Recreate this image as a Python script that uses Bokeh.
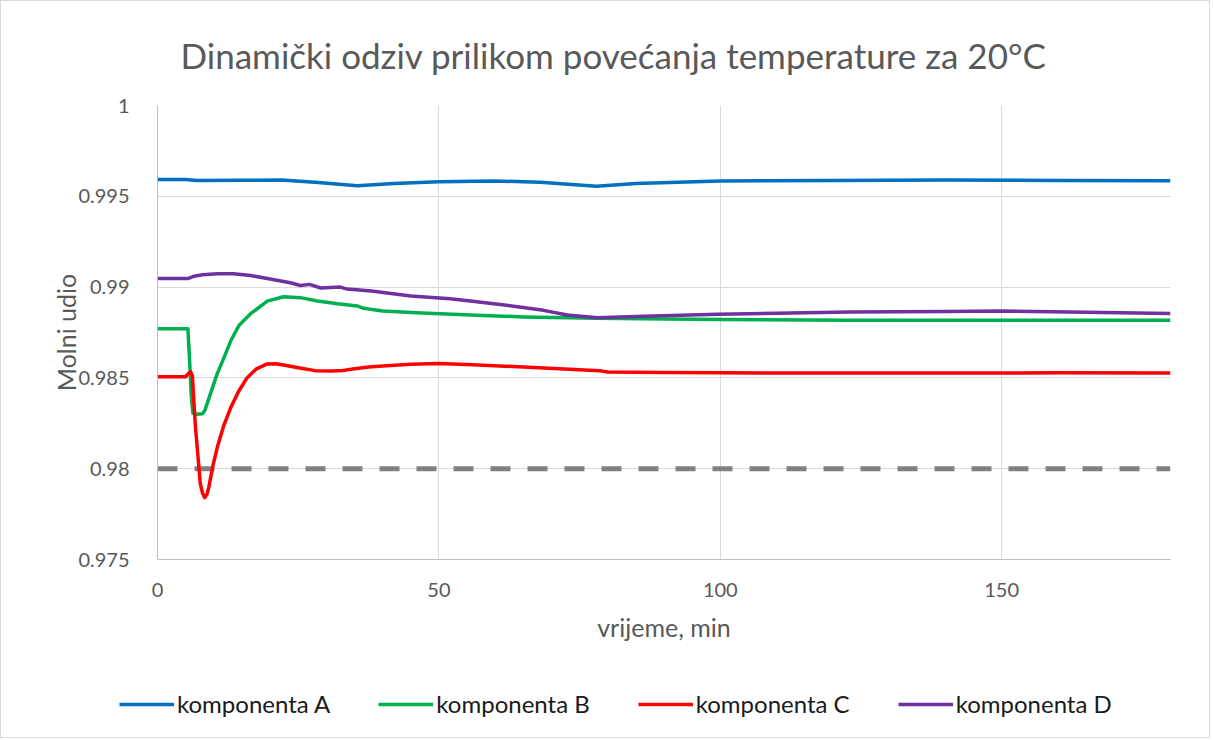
from bokeh.plotting import figure
from bokeh.layouts import column
from bokeh.models import FixedTicker, PrintfTickFormatter, Legend, LegendItem
from bokeh.embed import file_html
from bokeh.resources import INLINE

# ---------------- data ----------------
title_text = "Dinamički odziv prilikom povećanja temperature za 20°C"
x_label = "vrijeme, min"
y_label = "Molni udio"

x_ticks = [0, 50, 100, 150]
y_ticks = [0.975, 0.98, 0.985, 0.99, 0.995, 1.0]

t_a = [0, 5, 7, 15, 22, 28, 35.5, 42, 50, 60, 68, 78, 85, 100, 120, 140, 160, 180]
v_a = [0.99593, 0.99592, 0.99587, 0.99588, 0.99590, 0.99578, 0.99558, 0.99570, 0.99580,
       0.99584, 0.99578, 0.99556, 0.99570, 0.99584, 0.99587, 0.99590, 0.99587, 0.99586]

t_b = [0, 5.4, 5.7, 6.0, 6.3, 7.0, 8.0, 8.4, 9.4, 10.6, 11.8, 13, 14.5, 16.5, 19.5, 22.4,
       25.4, 28.4, 32, 35.5, 36.6, 40, 46, 55.6, 65, 78, 90, 100, 123, 150, 180]
v_b = [0.98771, 0.98771, 0.98600, 0.98400, 0.98305, 0.98300, 0.98302, 0.98320, 0.98412,
       0.98522, 0.98610, 0.98703, 0.98790, 0.98852, 0.98923, 0.98947, 0.98942, 0.98923,
       0.98908, 0.98896, 0.98883, 0.98868, 0.98859, 0.98846, 0.98836, 0.98828, 0.98824,
       0.98822, 0.98818, 0.98817, 0.98817]

t_c = [0, 5.0, 5.5, 5.9, 6.2, 6.7, 7.6, 8.0, 8.4, 8.8, 9.1, 9.8, 10.6, 11.8, 13, 14.4, 15.9,
       17.5, 19.5, 21, 22.4, 25, 28, 31, 33, 35, 37.5, 40, 45, 50, 56, 65, 75, 78.5, 80, 90,
       100, 120, 140, 160, 180]
v_c = [0.98506, 0.98506, 0.98525, 0.98533, 0.98510, 0.98247, 0.97918, 0.97865, 0.97841,
       0.97860, 0.97896, 0.98010, 0.98115, 0.98240, 0.98335, 0.98425, 0.98500, 0.98548,
       0.98577, 0.98578, 0.98571, 0.98556, 0.98540, 0.98538, 0.98541, 0.98550, 0.98560,
       0.98565, 0.98575, 0.98579, 0.98572, 0.98560, 0.98545, 0.98540, 0.98532, 0.98530,
       0.98528, 0.98527, 0.98527, 0.98528, 0.98527]

t_d = [0, 5.5, 6.5, 8, 10.7, 13.5, 16.5, 20, 23.6, 25.4, 27, 29, 32.5, 33.7, 38, 45, 52,
       55.6, 62, 68.6, 72.8, 78.2, 85, 99.5, 123, 140, 150, 165, 180]
v_d = [0.99048, 0.99048, 0.99060, 0.99068, 0.99073, 0.99073, 0.99064, 0.99045, 0.99024,
       0.99009, 0.99015, 0.98995, 0.99000, 0.98989, 0.98978, 0.98951, 0.98936, 0.98923,
       0.98900, 0.98872, 0.98846, 0.98831, 0.98838, 0.98850, 0.98863, 0.98865, 0.98868,
       0.98862, 0.98855]

limit_t = [0, 180]
limit_v = [0.98, 0.98]

names = ["komponenta A", "komponenta B", "komponenta C", "komponenta D"]
colors = ["#0070C0", "#00B050", "#FF0000", "#7030A0"]

FONT = "Lato"
LW = 3.5

# ---------------- main chart ----------------
p = figure(width=1208, height=660, x_range=(0, 180), y_range=(0.975, 1.0),
           output_backend="svg", toolbar_location=None,
           min_border_left=156, min_border_right=39, min_border_top=103,
           min_border_bottom=102)
p.outline_line_color = None
p.background_fill_color = "white"
p.border_fill_color = "white"

p.title.text = title_text
p.title.align = "left"
p.title.offset = 23
p.title.standoff = 60
p.title.text_font = FONT
p.title.text_font_size = "35px"
p.title.text_font_style = "normal"
p.title.text_color = "#595959"

for ax in (p.xaxis[0], p.yaxis[0]):
    ax.major_tick_line_color = None
    ax.minor_tick_line_color = None
    ax.axis_line_color = "#bfbfbf"
    ax.axis_line_width = 1
    ax.major_label_text_font = FONT
    ax.major_label_text_font_size = "20px"
    ax.major_label_text_color = "#595959"
    ax.axis_label_text_font = FONT
    ax.axis_label_text_font_size = "25px"
    ax.axis_label_text_font_style = "normal"
    ax.axis_label_text_color = "#595959"

p.xaxis.ticker = FixedTicker(ticks=x_ticks)
p.yaxis.ticker = FixedTicker(ticks=y_ticks)
p.yaxis.formatter = PrintfTickFormatter(format="%g")
p.xaxis.axis_label = x_label
p.yaxis.axis_label = y_label
p.xaxis.major_label_standoff = 17
p.yaxis.major_label_standoff = 22
p.xaxis.axis_label_standoff = 12
p.yaxis.axis_label_standoff = -6

p.grid.grid_line_color = "#d9d9d9"
p.grid.grid_line_width = 1

p.line(limit_t, limit_v, line_color="#808080", line_width=5, line_dash="20 17")

series = [(t_a, v_a), (t_b, v_b), (t_c, v_c), (t_d, v_d)]
for (t, v), c in zip(series, colors):
    p.line(t, v, line_color=c, line_width=LW, line_join="round")

# ---------------- legend strip ----------------
# its ranges lie outside the data, so its own copies of the series stay hidden;
# they only supply the legend's line samples
pl = figure(width=1208, height=76, x_range=(-2, -1), y_range=(-2, -1),
            output_backend="svg", toolbar_location=None,
            x_axis_location=None, y_axis_location=None, min_border=0)
pl.outline_line_color = None
pl.xgrid.visible = False
pl.ygrid.visible = False
pl.background_fill_color = "white"
pl.border_fill_color = "white"

for fig in (p, pl):
    if "frame_align" in fig.properties():
        fig.frame_align = False

items = []
for (t, v), n, c in zip(series, names, colors):
    r = pl.line(t, v, line_color=c, line_width=LW, visible=False)
    items.append(LegendItem(label=n, renderers=[r]))

legend = Legend(items=items, orientation="horizontal", location=(118, 19),
                glyph_width=55, glyph_height=22, label_standoff=3, spacing=48,
                padding=0, margin=0, border_line_color=None,
                background_fill_alpha=0, inactive_fill_alpha=0,
                label_text_font=FONT, label_text_font_size="24px",
                label_text_color="#1a1a1a")
pl.add_layout(legend, "center")

layout = column(p, pl, spacing=0)
layout.styles = {"border": "1px solid #d9d9d9"}

open("out.html", "w").write(file_html(layout, INLINE))
